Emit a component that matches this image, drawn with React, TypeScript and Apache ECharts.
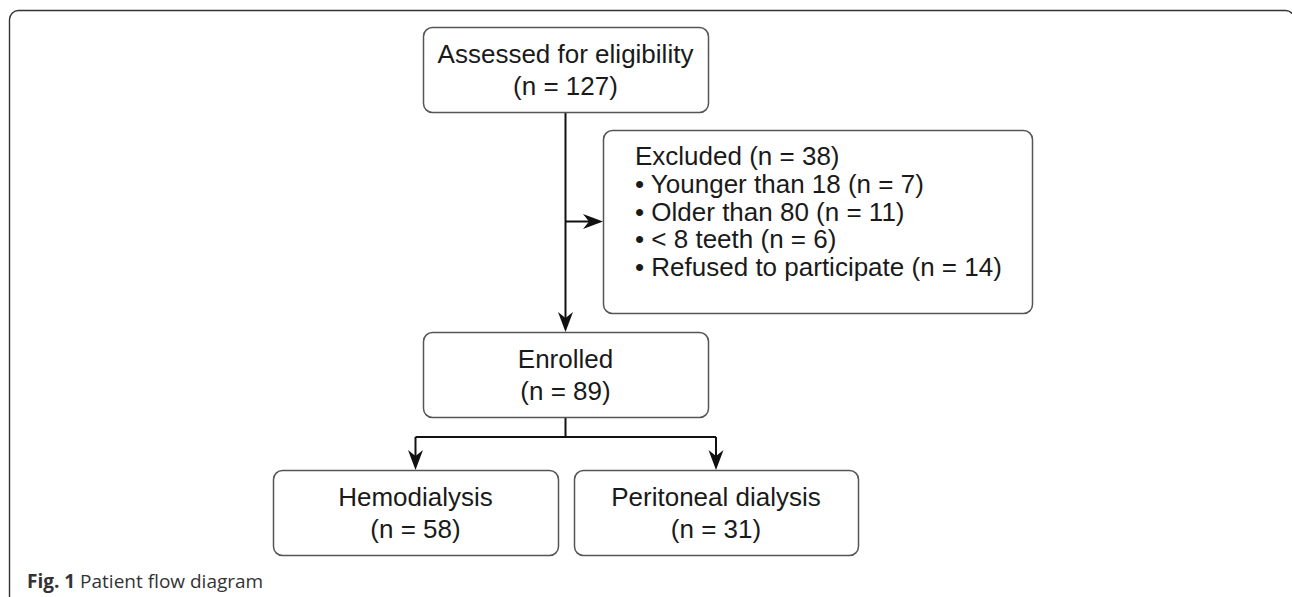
import React, { useEffect, useRef } from "react";
import * as echarts from "echarts";

// ---- Data ----
const assessedLabel = "Assessed for eligibility";
const assessedN = 127;
const excludedLabel = "Excluded";
const excludedN = 38;
const exclusionReasons = ["Younger than 18", "Older than 80", "< 8 teeth", "Refused to participate"];
const exclusionCounts = [7, 11, 6, 14];
const enrolledLabel = "Enrolled";
const enrolledN = 89;
const groupLabels = ["Hemodialysis", "Peritoneal dialysis"];
const groupCounts = [58, 31];
const captionBold = "Fig. 1";
const captionText = " Patient flow diagram";

const FONT = "'Liberation Sans', Arial, Helvetica, sans-serif";
const BOX_STROKE = "#555";
const TEXT_COLOR = "#1a1a1a";
const LINE_COLOR = "#111";

type Box = { x: number; y: number; w: number; h: number };

function boxEl(b: Box) {
  return {
    type: "rect",
    shape: { x: b.x + 0.5, y: b.y + 0.5, width: b.w, height: b.h, r: 9 },
    style: { fill: "#fff", stroke: BOX_STROKE, lineWidth: 1.5 },
  };
}

function centeredText(b: Box, lines: string[], lh: number) {
  const cy = b.y + b.h / 2;
  const start = cy - ((lines.length - 1) * lh) / 2;
  return lines.map((t, i) => ({
    type: "text",
    x: b.x + b.w / 2,
    y: start + i * lh,
    style: {
      text: t,
      fill: TEXT_COLOR,
      font: `26px ${FONT}`,
      textAlign: "center",
      textVerticalAlign: "middle",
    },
  }));
}

function arrowDown(x: number, y: number) {
  return {
    type: "polygon",
    shape: { points: [[x, y], [x - 7.5, y - 20], [x, y - 14], [x + 7.5, y - 20]] },
    style: { fill: LINE_COLOR },
  };
}
function arrowRight(x: number, y: number) {
  return {
    type: "polygon",
    shape: { points: [[x, y], [x - 20, y - 7.5], [x - 14, y], [x - 20, y + 7.5]] },
    style: { fill: LINE_COLOR },
  };
}
function seg(x1: number, y1: number, x2: number, y2: number) {
  return {
    type: "line",
    shape: { x1, y1, x2, y2 },
    style: { stroke: LINE_COLOR, lineWidth: 2 },
  };
}

export default function App() {
  const ref = useRef<HTMLDivElement>(null);
  useEffect(() => {
    if (!ref.current) return;
    const chart = echarts.init(ref.current, undefined, { renderer: "svg" });

    const assessed: Box = { x: 423, y: 27, w: 285, h: 85 };
    const excluded: Box = { x: 603, y: 130, w: 429, h: 183 };
    const enrolled: Box = { x: 423, y: 332, w: 285, h: 85 };
    const groups: Box[] = [
      { x: 273, y: 470, w: 285, h: 85 },
      { x: 574, y: 470, w: 284, h: 85 },
    ];

    const mainX = assessed.x + assessed.w / 2;
    const exclY = excluded.y + excluded.h / 2;
    const splitY = 437;
    const groupCx = groups.map((g) => g.x + g.w / 2);

    const excludedLines = [
      `${excludedLabel} (n = ${excludedN})`,
      ...exclusionReasons.map((r, i) => `\u2022 ${r} (n = ${exclusionCounts[i]})`),
    ];

    const elements: any[] = [
      // outer frame
      {
        type: "rect",
        shape: { x: 9.5, y: 10.5, width: 1285, height: 640, r: 9 },
        style: { fill: "none", stroke: "#333", lineWidth: 1.4 },
      },
      // connectors
      seg(mainX, assessed.y + assessed.h, mainX, enrolled.y - 4),
      arrowDown(mainX, enrolled.y),
      seg(mainX, exclY, excluded.x - 4, exclY),
      arrowRight(excluded.x, exclY),
      seg(mainX, enrolled.y + enrolled.h, mainX, splitY),
      seg(groupCx[0], splitY, groupCx[1], splitY),
      ...groupCx.flatMap((cx, i) => [seg(cx, splitY, cx, groups[i].y - 4), arrowDown(cx, groups[i].y)]),
      // boxes
      boxEl(assessed),
      ...centeredText(assessed, [assessedLabel, `(n = ${assessedN})`], 32),
      boxEl(excluded),
      ...excludedLines.map((t, i) => ({
        type: "text",
        x: excluded.x + 32,
        y: 156 + i * 27.8,
        style: {
          text: t,
          fill: TEXT_COLOR,
          font: `26px ${FONT}`,
          textAlign: "left",
          textVerticalAlign: "middle",
        },
      })),
      boxEl(enrolled),
      ...centeredText(enrolled, [enrolledLabel, `(n = ${enrolledN})`], 32),
      ...groups.flatMap((g, i) => [
        boxEl(g),
        ...centeredText(g, [groupLabels[i], `(n = ${groupCounts[i]})`], 32),
      ]),
      // caption
      {
        type: "text",
        x: 27,
        y: 581,
        style: {
          text: `{b|${captionBold}}{n|${captionText}}`,
          textVerticalAlign: "middle",
          rich: {
            b: { font: "bold 19px 'Open Sans', sans-serif", fill: "#333" },
            n: { font: "19px 'Open Sans', sans-serif", fill: "#333" },
          },
        },
      },
    ];

    chart.setOption({
      animation: false,
      backgroundColor: "#fff",
      graphic: { elements },
    });
    return () => chart.dispose();
  }, []);
  return (
    <div
      ref={ref}
      style={{ position: "absolute", left: 0, top: 0, width: 1292, height: 597 }}
    />
  );
}
